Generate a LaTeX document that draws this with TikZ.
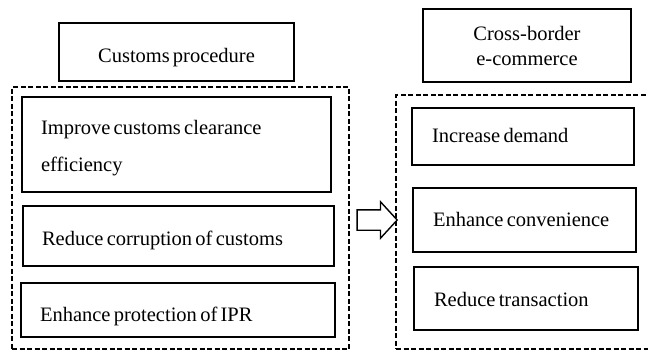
\documentclass[tikz,border=0pt]{standalone}
\usepackage{fontspec}
\setmainfont[WordSpace=0.6]{Liberation Serif}
\usetikzlibrary{shapes.arrows, positioning, calc}

\begin{document}
\begin{tikzpicture}[x=1pt, y=-1pt,
    title/.style={rectangle, draw, line width=1.6pt, align=center, inner sep=0pt, font=\fontsize{20.5}{25}\selectfont},
    group/.style={rectangle, draw, line width=1.6pt, dash pattern=on 5pt off 2.5pt, inner sep=0pt},
    item/.style={rectangle, draw, line width=1.6pt, align=left, inner xsep=19pt, inner ysep=0pt, font=\fontsize{20.5}{37}\selectfont, execute at begin node={\spaceskip=0.16em\relax}},
    lower/.style={text height=#1, text depth=4pt},
    bigarrow/.style={single arrow, draw, line width=1.4pt, inner xsep=0pt, inner ysep=9.5pt, text height=0pt, text depth=0pt, minimum height=40pt, single arrow head extend=8pt, single arrow tip angle=95}
]
    \useasboundingbox (0,0) rectangle (648,351);

    % Customs side
    \node[title, lower=25pt, minimum width=235pt, minimum height=58pt] (cust) at (176.5,52) {Customs procedure};
    \node[group, minimum width=337pt, minimum height=262pt] (leftgrp) at (180.5,218) {};
    \node[item, text height=21pt, text width=271pt, minimum height=95pt] (clear) at (176.5,144.5) {Improve customs clearance\\efficiency};
    \node[item, lower=23pt, text width=273pt, minimum height=60pt] (corrupt) at (178.5,236) {Reduce corruption of customs};
    \node[item, lower=27pt, text width=276pt, minimum height=54pt] (ipr) at (178,310) {Enhance protection of IPR};

    % E-commerce side
    \node[title, minimum width=208pt, minimum height=73pt] (cbec) at (527,45.5) {Cross-border\\e-commerce};
    \node[group, minimum width=264pt, minimum height=254pt] (rightgrp) at (528,222) {};
    \node[item, lower=16pt, inner xsep=20pt, text width=182pt, minimum height=57pt] (demand) at (523,136.5) {Increase demand};
    \node[item, lower=17pt, inner xsep=20pt, text width=183pt, minimum height=64pt] (conv) at (524.5,220) {Enhance convenience};
    \node[item, lower=20pt, inner xsep=20pt, text width=184pt, minimum height=63pt] (trans) at (526,298.5) {Reduce transaction};

    % Arrow
    \node[bigarrow] (effect) at ($(leftgrp.east)!0.5!(rightgrp.west)$) {};
\end{tikzpicture}
\end{document}
